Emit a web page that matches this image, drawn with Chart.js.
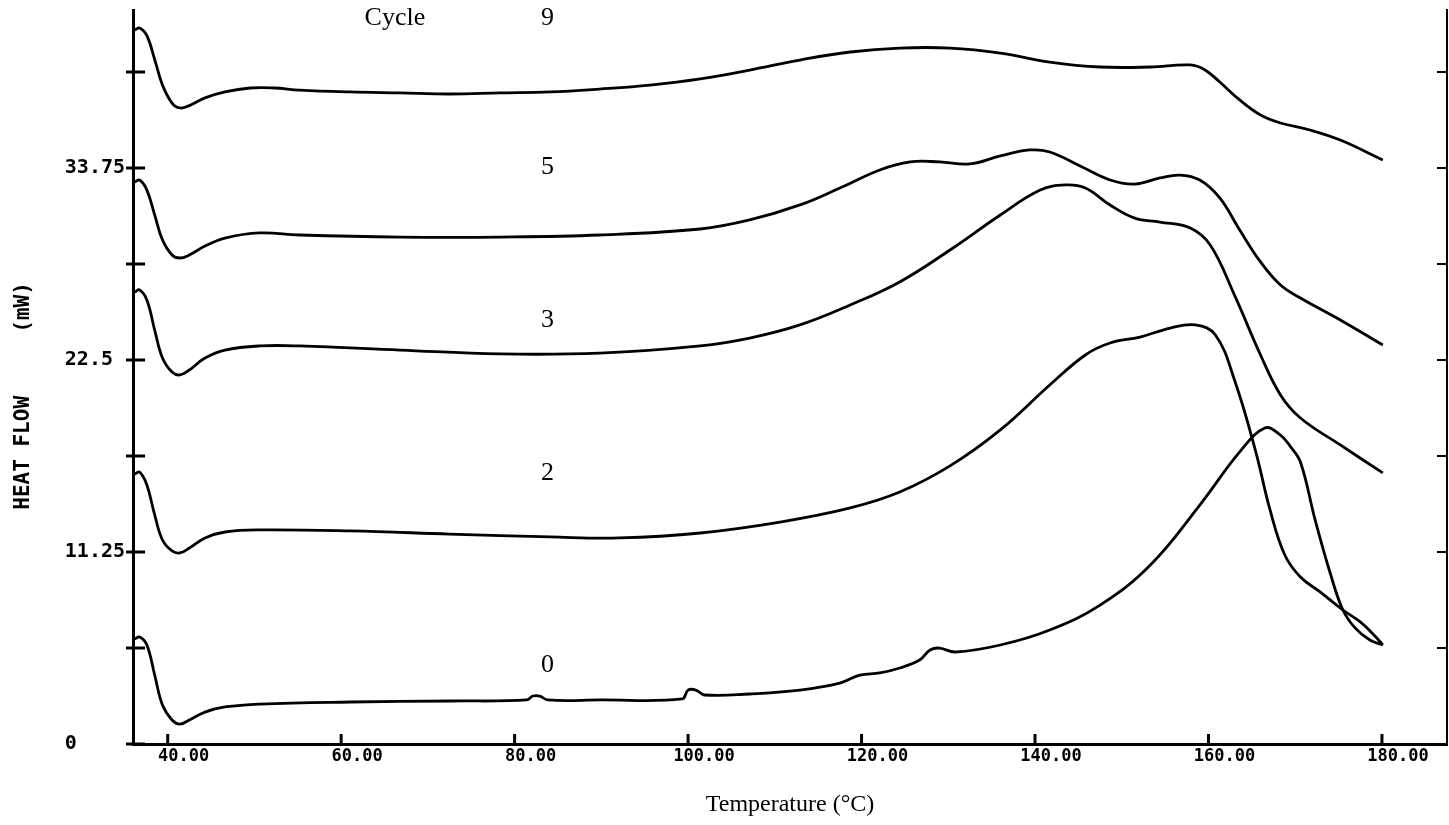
<!DOCTYPE html>
<html>
<head>
<meta charset="utf-8">
<script src="https://cdn.jsdelivr.net/npm/chart.js@4.4.0/dist/chart.umd.min.js"></script>
<style>
html,body{margin:0;padding:0;background:#fff;}
#wrap{width:1449px;height:825px;position:relative;}
</style>
</head>
<body>
<div id="wrap"><canvas id="c"></canvas></div>
<script>
// ---- data (temperature in °C, heat flow in mW) ----
const temp9 = [36.2,36.76,37.6,38.5,39.4,40.5,41.4,42.5,44.3,46.6,49.5,52.3,55.2,61.0,66.8,72.5,78.3,84.1,89.8,95.6,101.4,107.1,112.9,118.7,124.4,130.2,136.0,141.7,147.5,153.3,157.9,159.6,161.3,163.6,166.0,168.3,171.7,175.2,180.1];
const heat9 = [41.83,41.95,41.5,40.1,38.6,37.55,37.26,37.4,37.85,38.2,38.43,38.43,38.31,38.2,38.14,38.08,38.14,38.2,38.37,38.6,38.96,39.48,40.07,40.54,40.77,40.77,40.48,39.95,39.66,39.66,39.78,39.49,38.78,37.73,36.85,36.38,35.97,35.38,34.21];

const temp5 = [36.2,36.76,37.6,38.5,39.4,40.5,41.4,42.5,44.3,46.6,50.6,55.2,66.8,78.3,89.8,101.4,107.1,112.9,117.5,122.1,125.6,129.0,132.5,136.0,139.4,141.7,145.2,148.65,151.5,154.4,156.7,159.0,161.3,163.6,166.0,168.3,170.6,175.2,180.1];
const heat5 = [32.92,33.04,32.45,30.99,29.53,28.65,28.47,28.65,29.17,29.64,29.94,29.82,29.7,29.7,29.82,30.17,30.7,31.58,32.57,33.63,34.1,34.1,33.98,34.45,34.8,34.68,33.86,33.04,32.8,33.16,33.33,33.04,31.99,30.11,28.24,26.89,26.13,24.84,23.37];

const temp3 = [36.2,36.76,37.6,38.5,39.4,40.5,41.4,42.5,44.3,46.6,50.6,55.2,66.8,78.3,89.8,101.4,107.1,112.9,118.7,124.4,130.2,136.0,140.6,143.5,145.8,148.65,151.5,154.4,157.9,160.2,163.0,166.0,168.3,170.6,175.2,180.1];
const heat3 = [26.48,26.6,26.01,24.25,22.61,21.79,21.62,21.91,22.61,23.08,23.32,23.32,23.08,22.85,22.9,23.32,23.78,24.55,25.72,27.07,28.94,30.99,32.45,32.75,32.57,31.58,30.81,30.58,30.23,29.23,26.3,22.79,20.45,19.1,17.52,15.88];

const temp2 = [36.2,36.76,37.6,38.5,39.4,40.5,41.4,42.5,44.3,46.6,50.6,61.0,72.5,84.1,92.1,101.4,110.6,118.7,124.4,130.2,136.0,141.7,145.8,148.65,152.1,155.6,158.5,160.8,163.0,165.4,167.1,168.8,170.6,172.9,175.5,177.5,179.3,180.1];
const heat2 = [15.82,15.93,15.17,13.42,11.95,11.31,11.19,11.48,12.07,12.42,12.54,12.48,12.3,12.13,12.07,12.36,13.0,13.83,14.76,16.29,18.4,21.03,22.79,23.49,23.84,24.37,24.55,23.96,21.32,17.22,13.71,11.07,9.78,8.9,7.85,7.15,6.27,5.8];

const temp0 = [36.2,36.76,37.6,38.5,39.4,40.5,41.4,42.5,44.3,46.6,50.6,61.0,72.5,81.4,82.1,82.9,83.8,89.8,99.3,100.0,100.9,101.9,107.1,112.9,117.5,119.8,122.1,124.4,126.7,127.9,129.0,130.8,136.0,141.7,147.5,153.3,159.0,163.6,166.5,168.3,169.4,170.6,172.3,174.1,175.5,176.9,178.6,180.1];
const heat0 = [6.15,6.27,5.8,4.04,2.28,1.41,1.17,1.41,1.87,2.17,2.34,2.46,2.52,2.58,2.81,2.81,2.58,2.58,2.64,3.16,3.16,2.87,2.93,3.16,3.57,4.04,4.16,4.45,4.92,5.51,5.62,5.39,5.8,6.68,8.14,10.49,14.0,17.11,18.51,18.1,17.46,16.52,13.12,9.9,7.85,6.8,6.09,5.8];

const cycles = ['9','5','3','2','0'];
const xTickValues = [40,60,80,100,120,140,160,180];
const yTickValues = [0,5.625,11.25,16.875,22.5,28.125,33.75,39.375];
const yTickLabels = ['0','','11.25','','22.5','','33.75',''];

// ---- build datasets ----
function pairs(xs, ys){ return xs.map((x,i)=>({x:x, y:ys[i]})); }
const series = [[temp9,heat9],[temp5,heat5],[temp3,heat3],[temp2,heat2],[temp0,heat0]];
const datasets = series.map((s,i)=>({
  label: 'Cycle ' + cycles[i],
  data: pairs(s[0], s[1]),
  borderColor: '#000',
  borderWidth: 2.8,
  pointRadius: 0,
  fill: false,
  tension: 0.4
}));

// label anchors (data coordinates)
const labelAnchors = {
  cycleWord: {x: 66.2, y: 42.55},
  number: [{x:83.8,y:42.55},{x:83.8,y:33.8},{x:83.8,y:24.84},{x:83.8,y:15.88},{x:83.8,y:4.63}]
};

const tickMarks = {
  id: 'tickMarks',
  afterDraw(chart){
    const ctx = chart.ctx, xs = chart.scales.x, ys = chart.scales.y, ca = chart.chartArea;
    ctx.save();
    ctx.strokeStyle = '#000';
    ctx.lineWidth = 3;
    ctx.beginPath();
    xTickValues.forEach(v=>{
      const px = xs.getPixelForValue(v);
      ctx.moveTo(px, ca.bottom - 10); ctx.lineTo(px, ca.bottom + 2);
    });
    yTickValues.forEach(v=>{
      const py = ys.getPixelForValue(v);
      ctx.moveTo(ca.left - 7, py); ctx.lineTo(ca.left + 12, py);
    });
    ctx.stroke();
    ctx.lineWidth = 2;
    ctx.beginPath();
    yTickValues.forEach(v=>{
      const py = ys.getPixelForValue(v);
      ctx.moveTo(ca.right - 10, py); ctx.lineTo(ca.right, py);
    });
    ctx.stroke();
    // cycle labels
    ctx.fillStyle = '#000';
    ctx.font = '26px "Liberation Serif", "Times New Roman", serif';
    ctx.textAlign = 'center';
    ctx.textBaseline = 'middle';
    ctx.fillText('Cycle', xs.getPixelForValue(labelAnchors.cycleWord.x), ys.getPixelForValue(labelAnchors.cycleWord.y));
    labelAnchors.number.forEach((p,i)=>{
      ctx.fillText(cycles[i], xs.getPixelForValue(p.x), ys.getPixelForValue(p.y));
    });
    ctx.restore();
  }
};

const monoBold = (size)=>({family:'"DejaVu Sans Mono", monospace', size:size, weight:'bold'});
const noPadY = s => { s.paddingTop = 0; s.paddingBottom = 0; };

new Chart(document.getElementById('c'), {
  type: 'line',
  data: { datasets: datasets },
  options: {
    responsive: true,
    maintainAspectRatio: false,
    animation: false,
    layout: { padding: { top: 10, right: 0, left: 0, bottom: 0 } },
    plugins: { legend: { display: false }, tooltip: { enabled: false } },
    scales: {
      x: {
        type: 'linear', min: 36, max: 187.5,
        afterBuildTicks: s => { s.ticks = xTickValues.map(v=>({value:v})); },
        afterFit: s => { s.height = 81; s.paddingLeft = 0; s.paddingRight = 0; },
        grid: { display: false, drawTicks: false },
        border: { display: true, color: '#000', width: 3 },
        ticks: {
          autoSkip: false, maxRotation: 0, minRotation: 0,
          color: '#000', font: monoBold(17), padding: 2, labelOffset: 16,
          callback: v => Number(v).toFixed(2)
        },
        title: {
          display: true, text: 'Temperature (\u00B0C)', color: '#000',
          font: { family: '"Liberation Serif", "Times New Roman", serif', size: 24 },
          padding: { top: 0, bottom: 6 }
        }
      },
      y: {
        type: 'linear', min: 0, max: 43, position: 'left',
        afterBuildTicks: s => { s.ticks = yTickValues.map(v=>({value:v})); },
        afterFit: s => { s.width = 133; noPadY(s); },
        grid: { display: false, drawTicks: false },
        border: { display: true, color: '#000', width: 3 },
        ticks: {
          autoSkip: false, color: '#000', font: monoBold(20), padding: 8,
          callback: (v, i) => (yTickLabels[i] || '').padEnd(5, ' ')
        },
        title: {
          display: true, text: 'HEAT FLOW     (mW)   ', color: '#000',
          font: monoBold(21), padding: { top: 11, bottom: 0 }
        }
      },
      y2: {
        type: 'linear', min: 0, max: 43, position: 'right',
        afterFit: s => { s.width = 2; noPadY(s); },
        grid: { display: false, drawTicks: false },
        border: { display: true, color: '#000', width: 2 },
        ticks: { display: false }
      }
    }
  },
  plugins: [tickMarks]
});
</script>
</body>
</html>
